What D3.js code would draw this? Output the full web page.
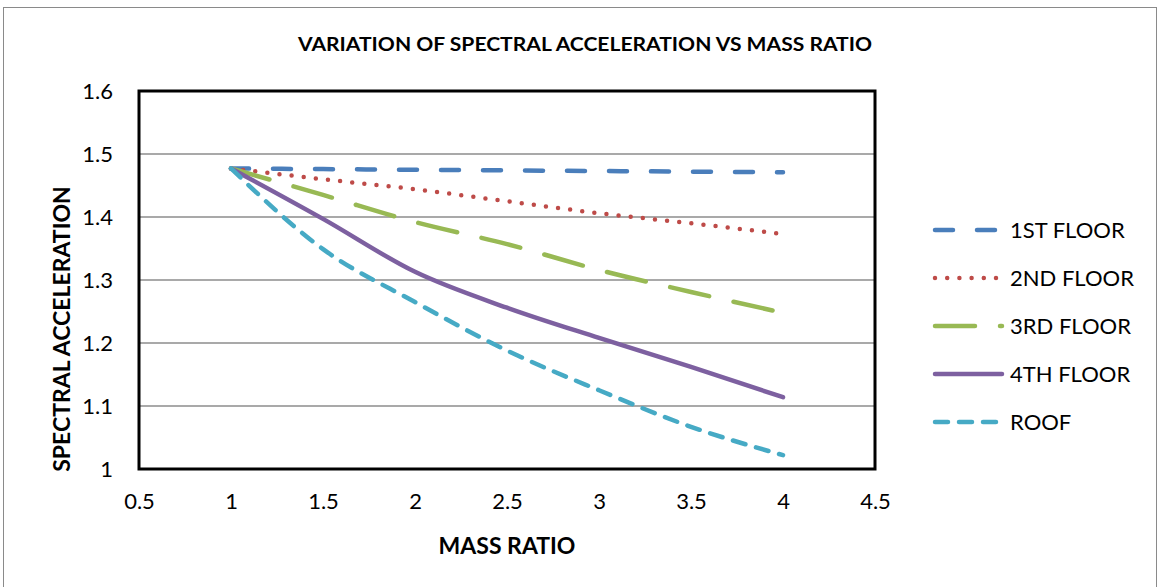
<!DOCTYPE html>
<html lang="en">
<head>
<meta charset="utf-8">
<title>Variation of spectral acceleration vs mass ratio</title>
<script src="https://d3js.org/d3.v7.min.js"></script>
<style>
  body { margin: 0; background: #fff; }
  text { font-family: Lato, "Open Sans", sans-serif; fill: #000; }
</style>
</head>
<body>
<div id="chart"></div>
<script>
// values
var massRatio = [1, 1.5, 2, 2.5, 3, 3.5, 4];
var floor1 = [1.477, 1.476, 1.475, 1.474, 1.473, 1.472, 1.471];
var floor2 = [1.477, 1.460, 1.444, 1.425, 1.406, 1.390, 1.373];
var floor3 = [1.477, 1.435, 1.392, 1.357, 1.316, 1.281, 1.248];
var floor4 = [1.477, 1.397, 1.313, 1.256, 1.208, 1.162, 1.114];
var roof   = [1.477, 1.349, 1.265, 1.188, 1.125, 1.067, 1.022];
var seriesNames = ["1ST FLOOR", "2ND FLOOR", "3RD FLOOR", "4TH FLOOR", "ROOF"];
var xTicks = [0.5, 1, 1.5, 2, 2.5, 3, 3.5, 4, 4.5];
var yTicks = [1, 1.1, 1.2, 1.3, 1.4, 1.5, 1.6];

var W = 1159, H = 587;
var plot = {left: 139, right: 875, top: 91, bottom: 469};

var styles = [
  {color: "#4a7ebb", dash: "18,24"},
  {color: "#be4b48", dash: "0,12.2"},
  {color: "#98b954", dash: "40,25"},
  {color: "#7d60a0", dash: null},
  {color: "#46aac5", dash: "13,11"}
];
var allSeries = [floor1, floor2, floor3, floor4, roof];

var svg = d3.select("#chart").append("svg")
  .attr("width", W)
  .attr("height", H);

// outer chart border
svg.append("rect")
  .attr("x", 3.5).attr("y", 7.5)
  .attr("width", 1153).attr("height", 600)
  .attr("fill", "none")
  .attr("stroke", "#8a8a8a")
  .attr("stroke-width", 1);

var x = d3.scaleLinear().domain([0.5, 4.5]).range([plot.left, plot.right]);
var y = d3.scaleLinear().domain([1, 1.6]).range([plot.bottom, plot.top]);

// gridlines
svg.append("g")
  .selectAll("line")
  .data(yTicks.slice(1, -1))
  .enter()
  .append("line")
  .attr("x1", plot.left).attr("x2", plot.right)
  .attr("y1", function(d) { return y(d); })
  .attr("y2", function(d) { return y(d); })
  .attr("stroke", "#8c8c8c")
  .attr("stroke-width", 1.6);

var fmt = function(d) { return d3.format("")(+d.toFixed(1)); };

// axes (labels only, no tick marks)
var yAxis = svg.append("g")
  .attr("transform", "translate(" + plot.left + ",0)")
  .call(d3.axisLeft(y).tickValues(yTicks).tickSize(0).tickPadding(26).tickFormat(fmt));
yAxis.select(".domain").remove();
yAxis.selectAll("text").style("font-size", "22px").style("font-family", "Lato, sans-serif");

var xAxis = svg.append("g")
  .attr("transform", "translate(0," + plot.bottom + ")")
  .call(d3.axisBottom(x).tickValues(xTicks).tickSize(0).tickPadding(24).tickFormat(fmt));
xAxis.select(".domain").remove();
xAxis.selectAll("text").style("font-size", "22px").style("font-family", "Lato, sans-serif");

// series lines
var line = d3.line()
  .x(function(d) { return x(d[0]); })
  .y(function(d) { return y(d[1]); })
  .curve(d3.curveMonotoneX);

allSeries.forEach(function(vals, i) {
  var pts = massRatio.map(function(m, j) { return [m, vals[j]]; });
  svg.append("path")
    .datum(pts)
    .attr("d", line)
    .attr("fill", "none")
    .attr("stroke", styles[i].color)
    .attr("stroke-width", 4.5)
    .attr("stroke-linecap", "round")
    .attr("stroke-linejoin", "round")
    .attr("stroke-dasharray", styles[i].dash);
});

// plot frame
svg.append("rect")
  .attr("x", plot.left).attr("y", plot.top)
  .attr("width", plot.right - plot.left)
  .attr("height", plot.bottom - plot.top)
  .attr("fill", "none")
  .attr("stroke", "#000")
  .attr("stroke-width", 3);

// title
svg.append("text")
  .attr("x", 585).attr("y", 51)
  .attr("text-anchor", "middle")
  .style("font-size", "19px")
  .style("font-weight", "bold")
  .attr("textLength", 574)
  .attr("lengthAdjust", "spacingAndGlyphs")
  .text("VARIATION OF SPECTRAL  ACCELERATION VS MASS RATIO");

// axis titles
svg.append("text")
  .attr("x", 507).attr("y", 554)
  .attr("text-anchor", "middle")
  .style("font-size", "23px")
  .style("font-weight", "bold")
  .text("MASS RATIO");

svg.append("text")
  .attr("transform", "translate(70,329) rotate(-90)")
  .attr("text-anchor", "middle")
  .style("font-size", "23px")
  .style("font-weight", "bold")
  .text("SPECTRAL ACCELERATION");

// legend
var legend = svg.append("g");
seriesNames.forEach(function(name, i) {
  var ly = 230 + i * 48;
  legend.append("line")
    .attr("x1", 935).attr("x2", 1002)
    .attr("y1", ly).attr("y2", ly)
    .attr("stroke", styles[i].color)
    .attr("stroke-width", 4.5)
    .attr("stroke-linecap", "round")
    .attr("stroke-dasharray", styles[i].dash);
  legend.append("text")
    .attr("x", 1010).attr("y", ly + 8)
    .style("font-size", "22px")
    .text(name);
});
</script>
</body>
</html>
